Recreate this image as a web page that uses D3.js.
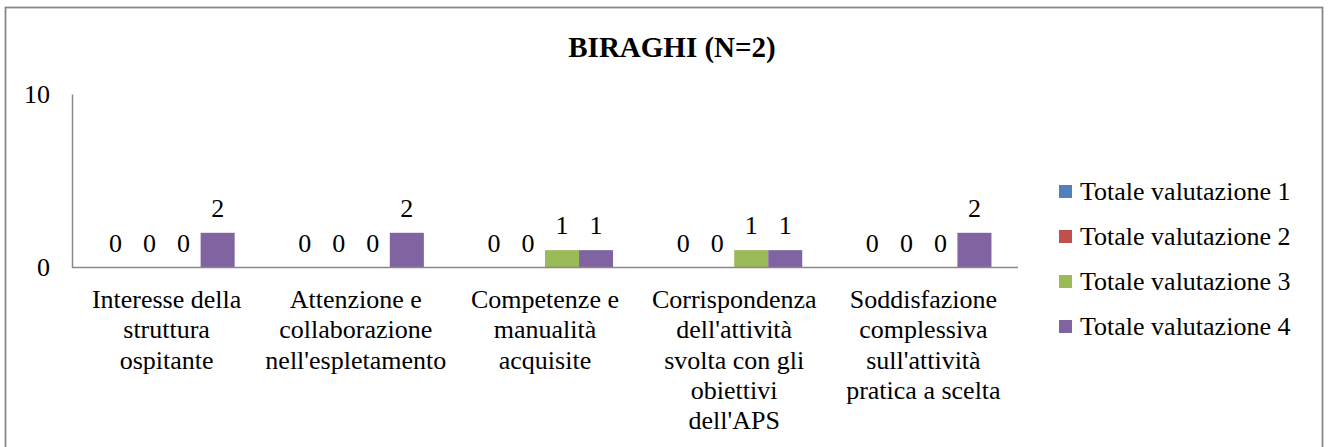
<!DOCTYPE html>
<html>
<head>
<meta charset="utf-8">
<script src="https://cdn.jsdelivr.net/npm/d3@7"></script>
</head>
<body style="margin:0">
<div id="container"></div>
<script>
const categories = [
    ["Interesse della", "struttura", "ospitante"],
    ["Attenzione e", "collaborazione", "nell'espletamento"],
    ["Competenze e", "manualità", "acquisite"],
    ["Corrispondenza", "dell'attività", "svolta con gli", "obiettivi", "dell'APS"],
    ["Soddisfazione", "complessiva", "sull'attività", "pratica a scelta"]
];
const seriesNames = ["Totale valutazione 1", "Totale valutazione 2", "Totale valutazione 3", "Totale valutazione 4"];
const valutazione1 = [0, 0, 0, 0, 0];
const valutazione2 = [0, 0, 0, 0, 0];
const valutazione3 = [0, 0, 1, 1, 0];
const valutazione4 = [2, 2, 1, 1, 2];
const yTicks = [0, 10];
const colors = ["#4F81BD", "#C0504D", "#9BBB59", "#8064A2"];

const series = [valutazione1, valutazione2, valutazione3, valutazione4];
const width = 1328, height = 447;

const svg = d3.select("#container").append("svg")
    .attr("width", width)
    .attr("height", height)
    .style("display", "block")
    .attr("font-family", "Liberation Serif");

// outer frame (bottom edge falls outside the picture)
svg.append("rect")
    .attr("x", 5.5).attr("y", 7.5)
    .attr("width", 1317).attr("height", 460)
    .attr("fill", "#fff")
    .attr("stroke", "#888")
    .attr("stroke-width", 1.8);

svg.append("text")
    .attr("x", 672).attr("y", 57)
    .attr("text-anchor", "middle")
    .attr("font-family", "Liberation Serif")
    .attr("font-size", 29)
    .attr("font-weight", "bold")
    .text("BIRAGHI (N=2)");

const catIdx = categories.map((d, i) => i);
const x = d3.scaleBand().domain(catIdx).range([72, 1018]);
const xs = d3.scaleBand().domain(d3.range(series.length))
    .range([0, x.bandwidth()])
    .paddingOuter(0.78);
const y = d3.scaleLinear().domain([0, 10]).range([267.5, 94]);

const g = svg.append("g");

series.forEach((vals, s) => {
    g.append("g")
        .selectAll("rect")
        .data(vals)
        .join("rect")
        .attr("x", (d, i) => x(i) + xs(s))
        .attr("y", d => y(d))
        .attr("width", xs.bandwidth())
        .attr("height", d => y(0) - y(d))
        .attr("fill", colors[s]);

    g.append("g")
        .selectAll("text")
        .data(vals)
        .join("text")
        .attr("x", (d, i) => x(i) + xs(s) + xs.bandwidth() / 2)
        .attr("y", d => y(d) - 16)
        .attr("text-anchor", "middle")
        .attr("font-family", "Liberation Serif")
        .attr("font-size", 26)
        .text(d => d);
});

// axes
const yAxis = d3.axisLeft(y).tickValues(yTicks).tickSize(0).tickPadding(22);
const ya = svg.append("g").attr("transform", "translate(72,0)").call(yAxis);
ya.attr("font-family", "Liberation Serif").attr("font-size", 26);
ya.select(".domain").attr("stroke", "#888").attr("stroke-width", 1.5);
ya.selectAll("text").attr("fill", "#000");

svg.append("line")
    .attr("x1", 72).attr("x2", 1018)
    .attr("y1", y(0)).attr("y2", y(0))
    .attr("stroke", "#888")
    .attr("stroke-width", 1.5);

// category labels
const labels = svg.append("g")
    .selectAll("text")
    .data(categories)
    .join("text")
    .attr("x", (d, i) => x(i) + x.bandwidth() / 2)
    .attr("y", 308)
    .attr("text-anchor", "middle")
    .attr("font-family", "Liberation Serif")
    .attr("font-size", 26);

labels.each(function (lines) {
    const t = d3.select(this);
    lines.forEach((line, k) => {
        t.append("tspan")
            .attr("x", t.attr("x"))
            .attr("y", 308 + k * 30.3)
            .text(line);
    });
});

// legend
const legend = svg.append("g")
    .selectAll("g")
    .data(seriesNames)
    .join("g")
    .attr("transform", (d, i) => `translate(1059,${191.5 + i * 45})`);

legend.append("rect")
    .attr("x", 0).attr("y", -6.5)
    .attr("width", 13).attr("height", 13)
    .attr("fill", (d, i) => colors[i]);

legend.append("text")
    .attr("x", 21).attr("y", 8.5)
    .attr("font-family", "Liberation Serif")
    .attr("font-size", 26)
    .text(d => d);
</script>
</body>
</html>
